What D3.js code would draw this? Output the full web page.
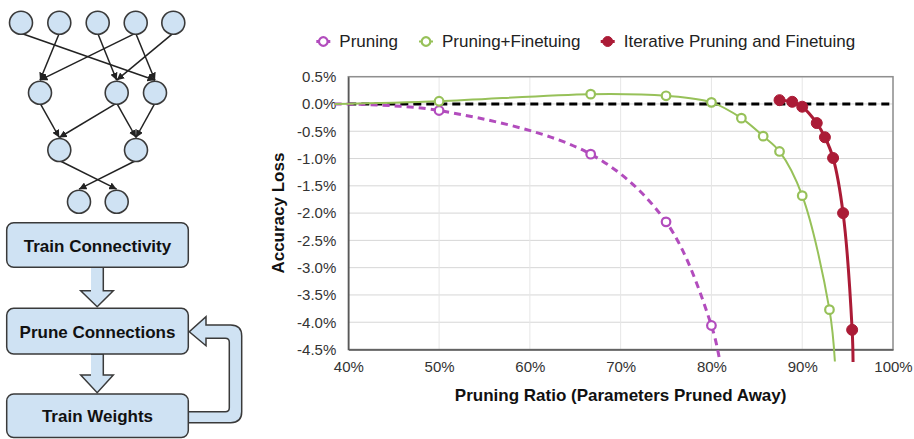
<!DOCTYPE html>
<html>
<head>
<meta charset="utf-8">
<script src="https://cdn.jsdelivr.net/npm/d3@7"></script>
<style>
  body { margin: 0; background: #fff; }
  svg { display: block; font-family: "Liberation Sans", Arial, Helvetica, sans-serif; }
</style>
</head>
<body>
<svg id="board" width="914" height="439"></svg>
<script>
    // chart data, pruning ratio (%) vs accuracy loss (%)
    var seriesNames = ["Pruning", "Pruning+Finetuing", "Iterative Pruning and Finetuing"];
    var pruning = [[50, -0.12], [66.7, -0.92], [75, -2.16], [80, -4.06]];
    var pruningFinetune = [[50, 0.05], [66.7, 0.18], [75, 0.15], [80, 0.03], [83.3, -0.26], [85.7, -0.59], [87.5, -0.87], [90, -1.68], [93, -3.77]];
    var iterative = [[87.5, 0.07], [88.9, 0.04], [90, -0.05], [91.6, -0.35], [92.5, -0.61], [93.4, -0.99], [94.5, -2.0], [95.5, -4.14]];
    // where the smoothed lines begin / run off the bottom (no marker there)
    var lineStarts = [[38.5, 0], [38.5, 0], null];
    var lineEnds = [[80.9, -4.69], [93.6, -4.72], [95.6, -4.73]];
    var xTicks = [40, 50, 60, 70, 80, 90, 100];
    var yTicks = [0.5, 0, -0.5, -1, -1.5, -2, -2.5, -3, -3.5, -4, -4.5];

    // diagram data
    var layers = [5, 3, 2, 2];
    var links = [[0,0,1,2],[0,1,1,0],[0,2,1,1],[0,3,1,0],[0,3,1,2],[0,4,1,1],
                 [1,0,2,0],[1,1,2,0],[1,1,2,1],[1,2,2,1],
                 [2,0,3,1],[2,1,3,0]];
    var steps = ["Train Connectivity", "Prune Connections", "Train Weights"];

    var svg = d3.select("#board");
    var blue = "#cfe2f3";
    var edge = "#3a3a3a";

    // ---------- left: network ----------
    var rowY = [22.7, 92.7, 150, 201.7];
    var rowX = [[21, 59.3, 97.7, 135.7, 173.3], [40, 116.7, 155], [59.3, 136], [79, 116.7]];
    var r = 11.5;

    svg.append("defs").append("marker")
      .attr("id", "arr").attr("viewBox", "0 0 10 10")
      .attr("refX", 10).attr("refY", 5)
      .attr("markerWidth", 5).attr("markerHeight", 5)
      .attr("markerUnits", "strokeWidth")
      .attr("orient", "auto")
      .append("path").attr("d", "M0,0L10,5L0,10z").attr("fill", "#222");

    links.forEach(function(l){
      var x1 = rowX[l[0]][l[1]], y1 = rowY[l[0]] + r - 1;
      var x2 = rowX[l[2]][l[3]], y2 = rowY[l[2]] - r - 1;
      svg.append("line").attr("x1", x1).attr("y1", y1).attr("x2", x2).attr("y2", y2)
        .attr("stroke", "#222").attr("stroke-width", 1.5).attr("marker-end", "url(#arr)");
    });

    layers.forEach(function(n, i){
      for (var j = 0; j < n; j++) {
        svg.append("circle").attr("cx", rowX[i][j]).attr("cy", rowY[i]).attr("r", r)
          .attr("fill", blue).attr("stroke", edge).attr("stroke-width", 1.6);
      }
    });

    // ---------- left: flow chart ----------
    var boxTop = [222.7, 308.3, 394];
    var boxBot = [267.3, 354, 437.5];
    var bx0 = 6.7, bx1 = 188.3;

    // loop arrow back from Train Weights to Prune Connections
    var loop = "M188.3,411.7 L225.3,411.7 Q229.3,411.7 229.3,407.7 L229.3,342.3 Q229.3,338.3 225.3,338.3 " +
               "L206,338.3 L206,345.7 L189.3,331.7 L206,316.7 L206,325 L230.7,325 Q241.7,325 241.7,336 " +
               "L241.7,411.7 Q241.7,422.7 230.7,422.7 L188.3,422.7 Z";
    svg.append("path").attr("d", loop).attr("fill", blue).attr("stroke", edge).attr("stroke-width", 1.5);

    // down arrows
    var downs = [[267.3, 290.7, 306.7], [354, 375, 392.7]];
    downs.forEach(function(d){
      var pts = [[91, d[0]], [103.3, d[0]], [103.3, d[1]], [113.3, d[1]], [97.2, d[2]], [80.7, d[1]], [91, d[1]]];
      svg.append("path").attr("d", "M" + pts.join("L"))
        .attr("fill", blue).attr("stroke", edge).attr("stroke-width", 1.5);
    });

    steps.forEach(function(s, i){
      svg.append("rect").attr("x", bx0).attr("y", boxTop[i]).attr("width", bx1 - bx0).attr("height", boxBot[i] - boxTop[i])
        .attr("rx", 7).attr("fill", blue).attr("stroke", edge).attr("stroke-width", 1.5);
      svg.append("text").attr("x", (bx0 + bx1) / 2).attr("y", (boxTop[i] + boxBot[i]) / 2 + 1)
        .attr("text-anchor", "middle").attr("dominant-baseline", "central")
        .attr("font-size", 17).attr("font-weight", "bold").attr("fill", "#111").text(s);
    });

    // ---------- right: chart ----------
    var x = d3.scaleLinear().domain([40, 100]).range([348.3, 893]);
    var y = d3.scaleLinear().domain([0.5, -4.5]).range([76.7, 349.5]);

    // grid
    svg.append("g").selectAll("line").data(yTicks).enter().append("line")
      .attr("x1", x(40)).attr("x2", x(100)).attr("y1", d => y(d)).attr("y2", d => y(d))
      .attr("stroke", "#d6d6d6").attr("stroke-width", 1);
    svg.append("g").selectAll("line").data(xTicks).enter().append("line")
      .attr("x1", d => x(d)).attr("x2", d => x(d)).attr("y1", y(0.5)).attr("y2", y(-4.5))
      .attr("stroke", "#e6e6e6").attr("stroke-width", 1);

    // frame
    svg.append("rect").attr("x", x(40)).attr("y", y(0.5)).attr("width", x(100) - x(40)).attr("height", y(-4.5) - y(0.5))
      .attr("fill", "none").attr("stroke", "#8f8f8f").attr("stroke-width", 1.5);

    // axes
    var yAxis = svg.append("g").attr("transform", "translate(" + x(40) + ",0)")
      .call(d3.axisLeft(y).tickValues(yTicks).tickSize(0).tickPadding(12).tickFormat(d => d.toFixed(1) + "%"));
    var xAxis = svg.append("g").attr("transform", "translate(0," + y(-4.5) + ")")
      .call(d3.axisBottom(x).tickValues(xTicks).tickSize(0).tickPadding(12).tickFormat(d => d + "%"));
    [xAxis, yAxis].forEach(function(a){
      a.select(".domain").attr("stroke", "#555").attr("stroke-width", 1.5);
      a.selectAll("text").attr("font-size", 15).attr("fill", "#333")
        .style("font-family", "'Liberation Sans', Arial, sans-serif");
    });

    // zero reference
    svg.append("line").attr("x1", x(40)).attr("x2", x(100)).attr("y1", y(0)).attr("y2", y(0))
      .attr("stroke", "#000").attr("stroke-width", 3).attr("stroke-dasharray", "8,5");

    svg.append("text").attr("transform", "translate(278," + y(-2) + ") rotate(-90)")
      .attr("text-anchor", "middle").attr("dominant-baseline", "central")
      .attr("font-size", 17).attr("font-weight", "bold").attr("fill", "#111").text("Accuracy Loss");
    svg.append("text").attr("x", (x(40) + x(100)) / 2).attr("y", 395)
      .attr("text-anchor", "middle").attr("dominant-baseline", "central")
      .attr("font-size", 17).attr("font-weight", "bold").attr("fill", "#111").text("Pruning Ratio (Parameters Pruned Away)");

    // series
    var colors = ["#b24cbd", "#97c159", "#ab1b36"];
    var widths = [3, 2, 3];
    var dashes = ["7,5", null, null];
    var filled = [false, false, true];
    var allData = [pruning, pruningFinetune, iterative];

    var line = d3.line().x(d => x(d[0])).y(d => y(d[1])).curve(d3.curveCatmullRom.alpha(0.5));

    allData.forEach(function(data, i){
      var pts = data.slice();
      if (lineStarts[i]) pts.unshift(lineStarts[i]);
      if (lineEnds[i]) pts.push(lineEnds[i]);
      svg.append("path").datum(pts).attr("d", line)
        .attr("fill", "none").attr("stroke", colors[i]).attr("stroke-width", widths[i])
        .attr("stroke-dasharray", dashes[i]);
      svg.append("g").selectAll("circle").data(data).enter().append("circle")
        .attr("cx", d => x(d[0])).attr("cy", d => y(d[1]))
        .attr("r", filled[i] ? 5.5 : 4.3)
        .attr("fill", filled[i] ? colors[i] : "#fff")
        .attr("stroke", colors[i]).attr("stroke-width", filled[i] ? 1 : 2.2);
    });

    // legend
    var legX = [323.3, 426, 607.7];
    seriesNames.forEach(function(name, i){
      var g = svg.append("g").attr("transform", "translate(" + legX[i] + ",41.5)");
      g.append("line").attr("x1", -7).attr("x2", 7).attr("stroke", colors[i]).attr("stroke-width", widths[i]);
      g.append("circle").attr("r", filled[i] ? 5 : 4.3)
        .attr("fill", filled[i] ? colors[i] : "#fff")
        .attr("stroke", colors[i]).attr("stroke-width", filled[i] ? 1 : 2.2);
      g.append("text").attr("x", 16).attr("dominant-baseline", "central")
        .attr("font-size", 17).attr("fill", "#222").text(name);
    });
</script>
</body>
</html>
